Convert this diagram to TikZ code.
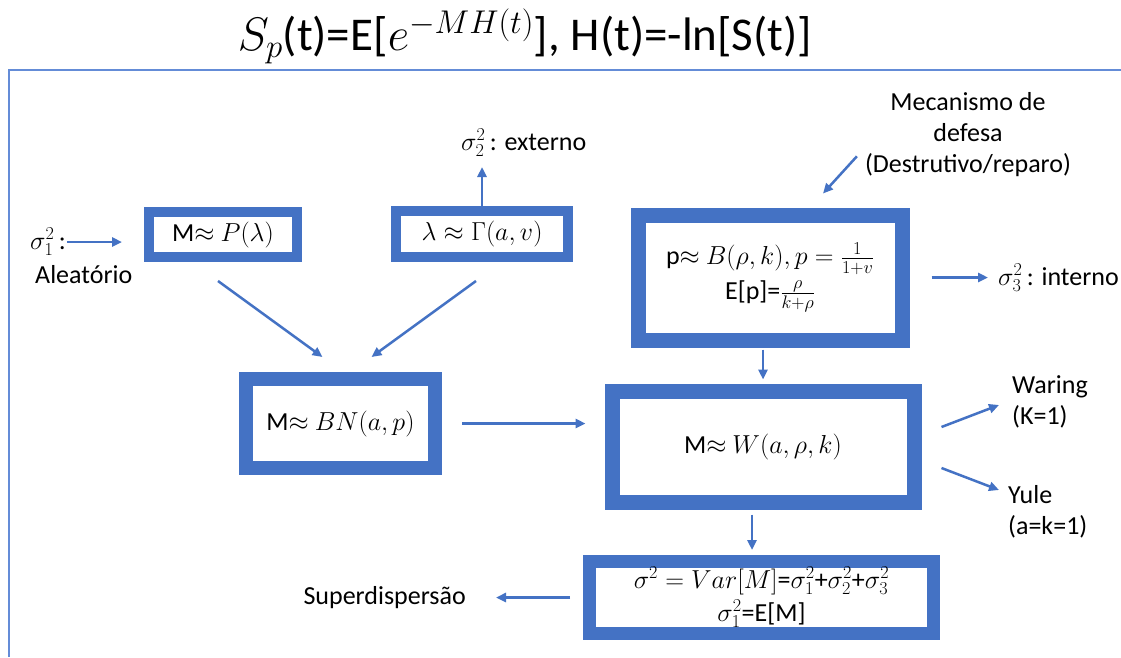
\RequirePackage{fix-cm}
\documentclass[tikz,border=0pt]{standalone}
\usepackage{fontspec}
\setmainfont{Carlito}
\usepackage{amsmath}
\usepackage{tikz}
\usetikzlibrary{arrows.meta, positioning}
\definecolor{OffBlue}{RGB}{68,114,196}
\definecolor{OffFrame}{RGB}{100,140,215}

\begin{document}
\begin{tikzpicture}[x=1pt, y=-1pt,
          every node/.style={font=\fontsize{26}{31}\selectfont},
          mbox/.style={rectangle, draw=OffBlue, fill=white, inner sep=0pt,
                       align=center},
          thinb/.style={mbox, line width=10pt},
          fatb/.style={mbox, line width=15pt},
          lbl/.style={inner sep=1pt, align=left},
          arr/.style={-{Triangle[length=10pt,width=9pt]}, draw=OffBlue,
                      line width=2.5pt}
        ]
        \fill[white] (0,0) rectangle (1121,657);
        \useasboundingbox (0,0) rectangle (1121,657);

        % Title and frame
        \node[font=\fontsize{47}{56}\selectfont] (title) at (525,36)
              {$S_p$(t)=E[$e^{-MH(t)}$], H(t)=-ln[S(t)]};
        \draw[OffFrame, line width=2pt] (9,657) -- (9,70) -- (1121,70);

        % Mixture
        \node[thinb, minimum width=148pt, minimum height=45pt]
              (pdist) at (223,234.5) {M$\approx$ $P(\lambda)$};
        \node[thinb, minimum width=172pt, minimum height=46pt]
              (gdist) at (482,234) {$\lambda\approx\Gamma(a,v)$};
        \node[fatb, line width=14pt, minimum width=189pt, minimum height=89pt]
              (bndist) at (340.5,423.5) {M$\approx$ $BN(a,p)$};

        % Beta part
        \node[fatb, minimum width=264pt, minimum height=125pt]
              (bdist) at (770,277.5)
              {p$\approx$ $B(\rho,k), p=\frac{1}{1+v}$\\[4pt]
               E[p]=$\frac{\rho}{k+\rho}$};
        \node[fatb, minimum width=302pt, minimum height=111pt]
              (wdist) at (763,446.5) {M$\approx$ $W(a,\rho,k)$};

        % Variance
        \node[fatb, line width=13pt, minimum width=344pt, minimum height=72pt]
              (vardist) at (761.5,597.5)
              {$\sigma^2=Var[M]$=$\sigma_1^2$+$\sigma_2^2$+$\sigma_3^2$\\[2pt]
               $\sigma_1^2$=E[M]};

        % Labels
        \node[lbl, anchor=west] (sigone) at (29,242) {$\sigma_1^2$\,:};
        \node[lbl, anchor=west] (aleat)  at (34,275) {Aleatório};
        \node[lbl, anchor=west] (extern) at (460,143) {$\sigma_2^2$\,: externo};
        \node[lbl, align=center] (mech)  at (968,135)
              {Mecanismo de\\defesa\\(Destrutivo/reparo)};
        \node[lbl, anchor=west] (intern) at (997,278) {$\sigma_3^2$\,: interno};
        \node[lbl, anchor=west] (waring) at (1011,402) {Waring\\(K=1)};
        \node[lbl, anchor=west] (yule)   at (1007,512) {Yule\\(a=k=1)};
        \node[lbl, anchor=east] (superd) at (467,598) {Superdispersão};

        \draw[arr, shorten >=22pt] (sigone.east) -- (sigone.east -| pdist.west);
        \draw[arr] ([xshift=-5pt,yshift=-19pt]pdist.south)
              -- ([xshift=-18pt,yshift=15pt]bndist.north);
        \draw[arr] ([xshift=-6pt,yshift=-19pt]gdist.south)
              -- ([xshift=31pt,yshift=15pt]bndist.north);
        \draw[arr, shorten >=9pt] (gdist.north) -- (gdist.north |- extern.south);
        \draw[arr] ([xshift=-7pt,yshift=22pt]mech.south west)
              -- ([xshift=53pt,yshift=14pt]bdist.north);
        \draw[arr, shorten <=22pt, shorten >=9pt]
              (bdist.east) -- (bdist.east -| intern.west);
        \draw[arr, shorten <=2pt, shorten >=4pt]
              (wdist.north |- bdist.south) -- (wdist.north);
        \draw[arr, shorten <=20pt, shorten >=19pt]
              (bndist.east) -- (bndist.east -| wdist.west);
        \draw[arr] ([xshift=20pt,yshift=19.5pt]wdist.east)
              -- ([xshift=-12pt,yshift=-3pt]waring.west);
        \draw[arr] ([xshift=20pt,yshift=-21.5pt]wdist.east)
              -- ([xshift=-8pt,yshift=22pt]yule.west);
        \draw[arr, shorten <=5pt, shorten >=5pt]
              ([xshift=-11pt]wdist.south) -- ([xshift=-11pt]wdist.south |- vardist.north);
        \draw[arr, shorten <=13pt, shorten >=29pt]
              (vardist.west) -- (vardist.west -| superd.east);
      \end{tikzpicture}
\end{document}
